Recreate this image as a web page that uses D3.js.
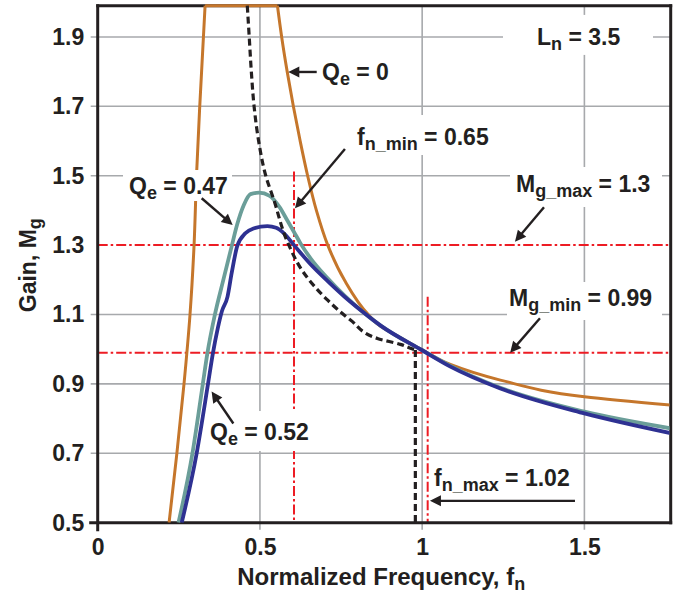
<!DOCTYPE html>
<html><head><meta charset="utf-8">
<script src="https://cdn.jsdelivr.net/npm/d3@7/dist/d3.min.js"></script>
<style>
body{margin:0;background:#fff;}
text{font-family:"Liberation Sans",Arial,Helvetica,sans-serif;font-weight:bold;fill:#231f20;white-space:pre;}
</style></head><body>
<svg id="chart" width="675" height="597"></svg>
<script>
// ---------- data ----------
const xTicks = [0, 0.5, 1, 1.5];
const xTickLabels = ["0", "0.5", "1", "1.5"];
const yTicks = [0.5, 0.7, 0.9, 1.1, 1.3, 1.5, 1.7, 1.9];
const yTickLabels = ["0.5", "0.7", "0.9", "1.1", "1.3", "1.5", "1.7", "1.9"];
const xGrid = [0.5, 1, 1.5];
const yGrid = [0.7, 0.9, 1.1, 1.5, 1.7, 1.9];

// Qe = 0 (no load); gain clipped at the top of the plot (1.99)
const fnQe0   = [0.220,0.244,0.266,0.2845,0.297,0.3045,0.3145,0.331,0.554,0.567,0.584,0.603,0.624,0.647,0.674,0.709,0.760,0.834,0.872,0.913,1.000,1.087,1.241,1.500,1.766];
const gainQe0 = [0.5,0.7,0.9,1.1,1.3,1.5,1.7,1.99,1.99,1.9,1.8,1.7,1.6,1.5,1.4,1.3,1.2,1.1,1.066,1.044,0.998,0.956,0.911,0.863,0.839];
// Qe = 0.47
const fnQe047   = [0.249,0.292,0.324,0.338,0.361,0.387,0.413,0.430,0.450,0.471,0.497,0.530,0.560,0.585,0.605,0.625,0.656,0.708,0.760,0.810,0.872,1.000,1.087,1.241,1.500,1.766];
const gainQe047 = [0.5,0.7,0.9,0.988,1.099,1.199,1.297,1.36,1.415,1.447,1.451,1.442,1.41,1.37,1.338,1.305,1.262,1.205,1.155,1.113,1.068,0.997,0.952,0.889,0.820,0.772];
// Qe = 0.52
const fnQe052   = [0.259,0.305,0.340,0.355,0.370,0.383,0.400,0.413,0.430,0.455,0.480,0.523,0.550,0.574,0.605,0.656,0.708,0.760,0.810,0.872,1.000,1.087,1.241,1.500,1.766];
const gainQe052 = [0.5,0.7,0.9,0.988,1.06,1.11,1.151,1.22,1.297,1.334,1.348,1.355,1.35,1.334,1.30,1.245,1.197,1.152,1.113,1.068,0.997,0.950,0.887,0.815,0.758];
// peak-gain boundary (dashed)
const fnBoundary   = [0.461,0.467,0.4735,0.482,0.496,0.518,0.543,0.584,0.636,0.708,0.779,0.862,0.933,0.964,0.979];
const gainBoundary = [1.99,1.9,1.8,1.7,1.6,1.5,1.43,1.311,1.219,1.142,1.084,1.031,1.014,1.003,0.998];
const boundaryDropFn = 0.979;
// design limits
const mgLimits = [1.3, 0.99];
const fnLimits = [0.605, 1.017];
const fnLimitTops = [1.512, 1.151];

// ---------- chart ----------
const svg = d3.select("#chart");
const W = 675, H = 597;
const x = d3.scaleLinear().domain([0, 1.766]).range([97.7, 670.7]);
const y = d3.scaleLinear().domain([0.5, 1.99]).range([522.7, 5.7]);
const X0 = x.range()[0], X1 = x.range()[1], Y0 = y.range()[0], Y1 = y.range()[1];
const ink = "#231f20";

svg.append("rect").attr("width", W).attr("height", H).attr("fill", "#fff");

const defs = svg.append("defs");
defs.append("clipPath").attr("id", "plotClip").append("rect")
  .attr("x", X0).attr("y", 4).attr("width", X1 - X0 - 1.2).attr("height", Y0 - 4);

// grid
const gridColor = "#a7a9ac";
svg.append("g").selectAll("line").data(yGrid).join("line")
  .attr("x1", X0 - 7).attr("x2", X1).attr("y1", d => y(d)).attr("y2", d => y(d))
  .attr("stroke", gridColor).attr("stroke-width", 1.6);
svg.append("g").selectAll("line").data(xGrid).join("line")
  .attr("x1", d => x(d)).attr("x2", d => x(d)).attr("y1", Y1).attr("y2", Y0 + 7)
  .attr("stroke", gridColor).attr("stroke-width", 1.6);

// tick labels via d3 axes
const yAxis = d3.axisLeft(y).tickValues(yTicks).tickFormat((d, i) => yTickLabels[i]).tickSize(0).tickPadding(13.4);
const xAxis = d3.axisBottom(x).tickValues(xTicks).tickFormat((d, i) => xTickLabels[i]).tickSize(0).tickPadding(15.5);
const gy = svg.append("g").attr("transform", `translate(${X0},0)`).call(yAxis);
const gx = svg.append("g").attr("transform", `translate(0,${Y0})`).call(xAxis);
[gy, gx].forEach(g => {
  g.select(".domain").remove();
  g.selectAll("text").attr("font-size", 23).attr("font-family", null).attr("fill", ink)
    .style("font-family", '"Liberation Sans",Arial,sans-serif').style("font-weight", "bold");
});

// limit lines (red dash-dot)
const red = "#ed1c24";
svg.append("g").selectAll("line").data(mgLimits).join("line")
  .attr("x1", X0).attr("x2", X1).attr("y1", d => y(d)).attr("y2", d => y(d))
  .attr("stroke", red).attr("stroke-width", 2).attr("stroke-dasharray", "10,3,2.5,3");
svg.append("g").selectAll("line").data(fnLimits).join("line")
  .attr("x1", d => x(d)).attr("x2", d => x(d)).attr("y1", (d, i) => y(fnLimitTops[i])).attr("y2", Y0)
  .attr("stroke", red).attr("stroke-width", 2).attr("stroke-dasharray", "10,3,2.5,3");

// frame
const frame = svg.append("g").attr("stroke", ink).attr("stroke-width", 3).attr("stroke-linecap", "square");
frame.append("line").attr("x1", X0).attr("x2", X0).attr("y1", Y1).attr("y2", Y0 + 7);
frame.append("line").attr("x1", X0 - 7).attr("x2", X1).attr("y1", Y0).attr("y2", Y0);
frame.append("line").attr("x1", X0).attr("x2", X1).attr("y1", Y1).attr("y2", Y1);
frame.append("line").attr("x1", X1).attr("x2", X1).attr("y1", Y1).attr("y2", Y0);

// curves
const lineX = d3.line().x(d => x(d[0])).y(d => y(d[1])).curve(d3.curveMonotoneX);
const lineY = d3.line().x(d => x(d[0])).y(d => y(d[1])).curve(d3.curveMonotoneY);
const lineL = d3.line().x(d => x(d[0])).y(d => y(d[1]));
const zip = (a, b) => a.map((v, i) => [v, b[i]]);
const byGain = pts => pts.slice().sort((a, b) => a[1] - b[1]);
const curves = svg.append("g").attr("clip-path", "url(#plotClip)").attr("fill", "none").attr("stroke-linejoin", "round");

// Qe=0: steep branches interpolated along the gain axis, flat clipped top
const q0 = zip(fnQe0, gainQe0);
const topG = d3.max(gainQe0);
const i1 = gainQe0.indexOf(topG), i2 = gainQe0.lastIndexOf(topG);
const dQ0 = lineY(byGain(q0.slice(0, i1 + 1))) + lineL(q0.slice(i1, i2 + 1)) + lineY(byGain(q0.slice(i2)));
curves.append("path").attr("d", dQ0).attr("stroke", "#c5762b").attr("stroke-width", 3);
curves.append("path").attr("d", lineX(zip(fnQe047, gainQe047))).attr("stroke", "#6b9e99").attr("stroke-width", 3.8);
curves.append("path").attr("d", lineX(zip(fnQe052, gainQe052))).attr("stroke", "#2e3192").attr("stroke-width", 3.8);
curves.append("path").attr("d", lineY(zip(fnBoundary, gainBoundary))).attr("stroke", ink).attr("stroke-width", 3.2).attr("stroke-dasharray", "7,4");
curves.append("line").attr("x1", x(boundaryDropFn)).attr("x2", x(boundaryDropFn))
  .attr("y1", y(gainBoundary[gainBoundary.length - 1])).attr("y2", Y0)
  .attr("stroke", ink).attr("stroke-width", 3.2).attr("stroke-dasharray", "7,4");

// labels
function richText(sel, parts, main, sub, shift) {
  let cur = 0;
  parts.forEach(p => {
    const isSub = p[1] === 1;
    const target = isSub ? shift : 0;
    sel.append("tspan").attr("font-size", isSub ? sub : main).attr("dy", target - cur).text(p[0]);
    cur = target;
  });
}
const labels = [
  { parts: [["Q",0],["e",1],[" = 0",0]], f: 0.6944, g: 1.776, box: [-5,-22,72,30] },
  { parts: [["L",0],["n",1],[" = 3.5",0]], f: 1.357, g: 1.877, box: [-35,-30,150,40] },
  { parts: [["f",0],["n_min",1],[" = 0.65",0]], f: 0.8023, g: 1.5885, box: [-8,-30,150,40] },
  { parts: [["Q",0],["e",1],[" = 0.47",0]], f: 0.0996, g: 1.4473, box: [-7,-24,109,31] },
  { parts: [["M",0],["g_max",1],[" = 1.3",0]], f: 1.2923, g: 1.4531, box: [-7,-25,152,40] },
  { parts: [["M",0],["g_min",1],[" = 0.99",0]], f: 1.2707, g: 1.1245, box: [-3,-24,155,38] },
  { parts: [["Q",0],["e",1],[" = 0.52",0]], f: 0.3492, g: 0.7383, box: [-5,-29,104,40] },
  { parts: [["f",0],["n_max",1],[" = 1.02",0]], f: 1.0396, g: 0.6058, box: [-5,-26,145,36] }
];
const lg = svg.append("g");
labels.forEach(L => {
  const px = x(L.f), py = y(L.g);
  lg.append("rect").attr("x", px + L.box[0]).attr("y", py + L.box[1]).attr("width", L.box[2]).attr("height", L.box[3]).attr("fill", "#fff");
  const t = lg.append("text").attr("x", px - 1).attr("y", py);
  richText(t, L.parts, 23, 18, 5);
});

// arrows
const arrows = [
  [[0.675,1.799],[0.5874,1.799]],
  [[0.762,1.577],[0.608,1.406]],
  [[0.3205,1.435],[0.416,1.358]],
  [[1.3755,1.409],[1.286,1.31]],
  [[1.363,1.089],[1.271,0.99]],
  [[0.418,0.786],[0.351,0.878]],
  [[1.471,0.563],[1.024,0.563]]
];
const ag = svg.append("g");
arrows.forEach(a => {
  const x1 = x(a[0][0]), y1 = y(a[0][1]), x2 = x(a[1][0]), y2 = y(a[1][1]);
  const dx = x2 - x1, dy = y2 - y1, len = Math.hypot(dx, dy), ux = dx / len, uy = dy / len;
  const hl = 11, hw = 5.5;
  ag.append("line").attr("x1", x1).attr("y1", y1).attr("x2", x2 - ux * (hl - 2)).attr("y2", y2 - uy * (hl - 2))
    .attr("stroke", ink).attr("stroke-width", 2.4);
  const bx = x2 - ux * hl, by = y2 - uy * hl;
  ag.append("polygon").attr("points", [[x2, y2], [bx - uy * hw, by + ux * hw], [bx + uy * hw, by - ux * hw]].map(p => p.join(",")).join(" "))
    .attr("fill", ink);
});

// axis titles
const xt = svg.append("text").attr("x", (X0 + X1) / 2 - 3).attr("y", 585).attr("text-anchor", "middle");
richText(xt, [["Normalized Frequency, f",0],["n",1]], 24, 18, 5);
const yt = svg.append("text").attr("transform", `translate(36,${(Y0 + Y1) / 2 + 1}) rotate(-90)`).attr("text-anchor", "middle");
richText(yt, [["Gain, M",0],["g",1]], 23, 18, 5);
</script>
</body></html>
